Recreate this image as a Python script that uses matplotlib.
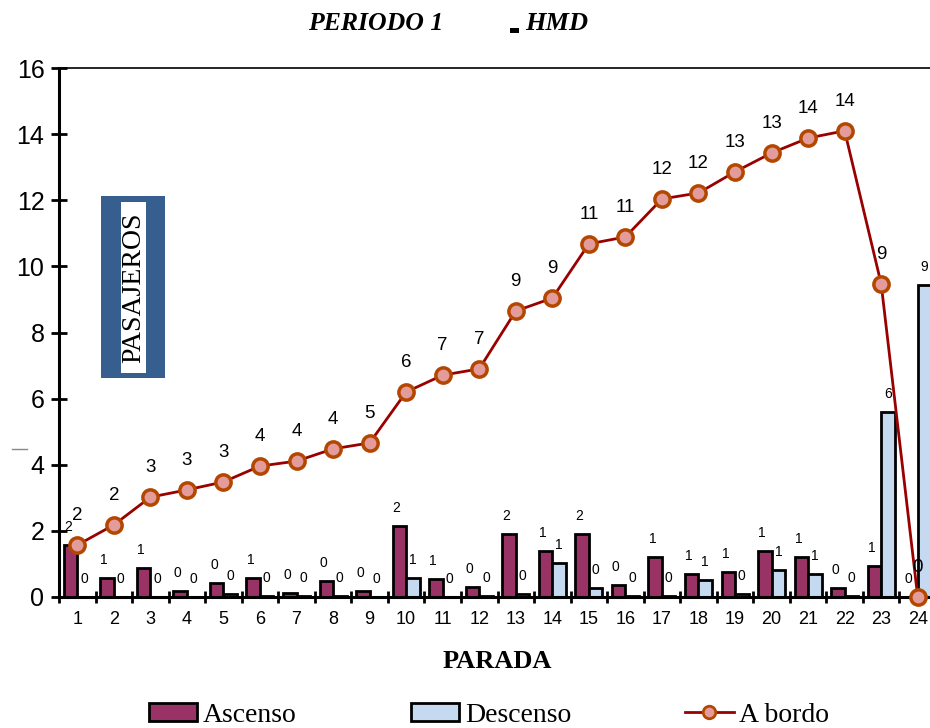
import numpy as np
import matplotlib.pyplot as plt
from matplotlib.patches import Rectangle, Patch
from matplotlib.lines import Line2D

paradas = [str(i) for i in range(1, 25)]
ascenso = [1.57, 0.57, 0.88, 0.18, 0.42, 0.57, 0.12, 0.48, 0.18, 2.15, 0.54, 0.30,
           1.90, 1.39, 1.90, 0.36, 1.21, 0.70, 0.76, 1.39, 1.21, 0.27, 0.94, 0.0]
descenso = [0.0, 0.0, 0.0, 0.0, 0.10, 0.03, 0.03, 0.03, 0.0, 0.58, 0.0, 0.03,
            0.10, 1.03, 0.27, 0.03, 0.03, 0.52, 0.10, 0.82, 0.70, 0.03, 5.60, 9.44]
a_bordo = [1.57, 2.18, 3.02, 3.24, 3.48, 3.96, 4.11, 4.48, 4.66, 6.20, 6.71, 6.90,
           8.65, 9.04, 10.68, 10.89, 12.04, 12.22, 12.86, 13.43, 13.88, 14.10, 9.47, 0.0]

c_asc = '#993366'
c_desc = '#C5D9F1'
c_line = '#990000'

fig = plt.figure(figsize=(9.3, 7.28), dpi=100)
ax = fig.add_axes([59 / 930, 1 - 597 / 728, 877 / 930, 529 / 728])

x = np.arange(1, 25)
w = 0.37
ax.bar(x - w / 2, ascenso, w, color=c_asc, edgecolor='black', linewidth=2, zorder=2)
ax.bar(x + w / 2, descenso, w, color=c_desc, edgecolor='black', linewidth=2, zorder=2)
ax.plot(x, a_bordo, color=c_line, lw=2, marker='o', markersize=11,
        markerfacecolor='#E39B9B', markeredgecolor='#B34700', markeredgewidth=2.5,
        zorder=3, clip_on=False)

# etiquetas de datos
for xi, v in zip(x, ascenso):
    ax.annotate(f'{round(v):.0f}', (xi - w / 2, v), xytext=(-2, 13), textcoords='offset points',
                ha='center', va='center', fontsize=10, family='Liberation Sans')
for xi, v in zip(x, descenso):
    ax.annotate(f'{round(v):.0f}', (xi + w / 2, v), xytext=(0, 13), textcoords='offset points',
                ha='center', va='center', fontsize=10, family='Liberation Sans')
for xi, v in zip(x, a_bordo):
    ax.annotate(f'{round(v):.0f}', (xi, v), xytext=(0, 21), textcoords='offset points',
                ha='center', va='center', fontsize=13.5, family='Liberation Sans')

ax.set_xlim(0.5, 24.5)
ax.set_ylim(0, 16)
ax.set_yticks(range(0, 17, 2))
ax.set_xticks(x)
ax.set_xticklabels(paradas, family='Liberation Sans', fontsize=13)
ax.set_xticks(np.arange(0.5, 25, 1), minor=True)
ax.tick_params(axis='x', which='major', length=0, pad=10)
ax.tick_params(axis='x', which='minor', direction='inout', length=8, width=2)
ax.tick_params(axis='y', direction='inout', length=11, width=2, pad=5)
for lab in ax.get_yticklabels():
    lab.set_family('Liberation Sans')
    lab.set_fontsize(18)

for s in ['left', 'bottom']:
    ax.spines[s].set_linewidth(2.2)
ax.spines['top'].set_linewidth(1.2)
ax.spines['right'].set_visible(False)

ax.set_xlabel('PARADA', family='Liberation Serif', fontweight='bold', fontsize=19, labelpad=16)

# caja PASAJEROS
fig.patches.append(Rectangle((101 / 930, 1 - 378 / 728), 64 / 930, 182 / 728,
                             transform=fig.transFigure, facecolor='#365E8E', edgecolor='none'))
fig.patches.append(Rectangle((121 / 930, 1 - 373 / 728), 25 / 930, 171 / 728,
                             transform=fig.transFigure, facecolor='white', edgecolor='none'))
fig.text(134 / 930, 1 - 288 / 728, 'PASAJEROS', rotation=90, ha='center', va='center',
         family='Liberation Serif', fontsize=20)

# marca gris pequena
fig.lines.append(Line2D([12 / 930, 27 / 930], [1 - 449 / 728, 1 - 449 / 728],
                        transform=fig.transFigure, color='#888888', lw=1))

fig.text(376 / 930, 1 - 23 / 728, 'PERIODO 1', ha='center', va='center',
         family='Liberation Serif', fontweight='bold', style='italic', fontsize=18.5)
fig.text(557 / 930, 1 - 23 / 728, 'HMD', ha='center', va='center',
         family='Liberation Serif', fontweight='bold', style='italic', fontsize=19)
fig.patches.append(Rectangle((510 / 930, 1 - 33 / 728), 9 / 930, 5 / 728,
                             transform=fig.transFigure, facecolor='black'))

handles = [Patch(facecolor=c_asc, edgecolor='black', linewidth=2),
           Patch(facecolor=c_desc, edgecolor='black', linewidth=2),
           Line2D([], [], color=c_line, lw=2, marker='o', markersize=9,
                  markerfacecolor='#E39B9B', markeredgecolor='#B34700', markeredgewidth=2)]
fig.legend(handles, ['Ascenso', 'Descenso', 'A bordo'], loc='center',
           bbox_to_anchor=(489 / 930, 1 - 715 / 728), ncol=3, frameon=False,
           prop={'family': 'Liberation Serif', 'size': 20}, handlelength=1.75,
           handleheight=0.6, handletextpad=0.2, columnspacing=4.1, borderaxespad=0)

fig.savefig('out.png', dpi=100)
